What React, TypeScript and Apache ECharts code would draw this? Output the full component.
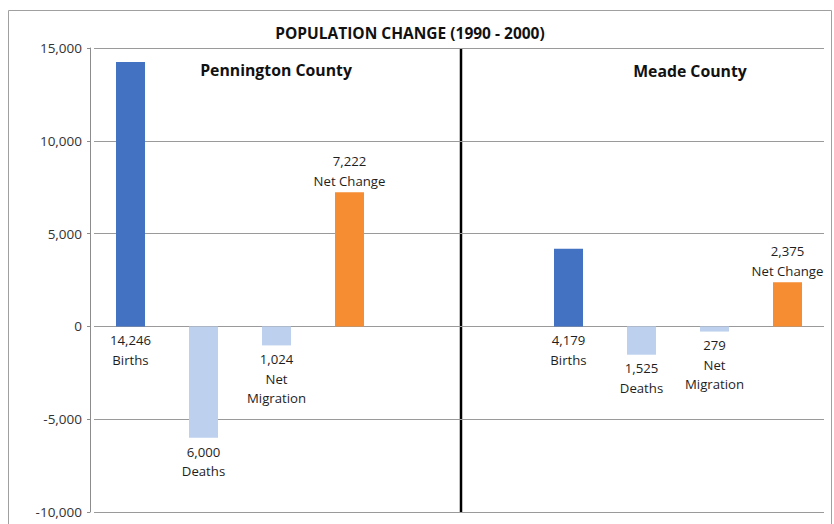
import React, { useEffect, useRef } from 'react';
import * as echarts from 'echarts';

const chartTitle = 'POPULATION CHANGE (1990 - 2000)';
const counties = ['Pennington County', 'Meade County'];
const components = ['Births', 'Deaths', 'Net Migration', 'Net Change'];
const componentLabels = ['Births', 'Deaths', 'Net\nMigration', 'Net Change'];
const penningtonValues = [14246, -6000, -1024, 7222];
const meadeValues = [4179, -1525, -279, 2375];
const componentColors = ['#4372c2', '#bdd0ee', '#bdd0ee', '#f68d33'];
const labelPositions = ['bottom', 'bottom', 'bottom', 'top'];
const yMin = -10000;
const yMax = 15000;
const yInterval = 5000;
const gapSlots = ['gap-1', 'gap-2'];

const FONT = "'Open Sans', 'Noto Sans', sans-serif";

export default function App() {
  const ref = useRef<HTMLDivElement>(null);

  useEffect(() => {
    if (!ref.current) return;
    const chart = echarts.init(ref.current, undefined, { renderer: 'svg' });

    const categories: string[] = [];
    const data: any[] = [];
    const pushCounty = (county: string, values: number[]) => {
      values.forEach((v, i) => {
        categories.push(county + '|' + components[i]);
        data.push({
          value: v,
          itemStyle: { color: componentColors[i] },
          label: {
            show: true,
            position: labelPositions[i],
            distance: labelPositions[i] === 'top' ? 2 : 4,
            formatter: () => Math.abs(v).toLocaleString('en-US') + '\n' + componentLabels[i],
          },
        });
      });
    };
    pushCounty(counties[0], penningtonValues);
    gapSlots.forEach((g) => {
      categories.push(g);
      data.push('-');
    });
    pushCounty(counties[1], meadeValues);

    const option: any = {
      animation: false,
      backgroundColor: '#ffffff',
      textStyle: { fontFamily: FONT },
      grid: { left: 94, right: 10, top: 48, bottom: 12, containLabel: false },
      xAxis: {
        type: 'category',
        data: categories,
        axisLine: { show: false },
        axisTick: { show: false },
        axisLabel: { show: false },
        splitLine: { show: false },
      },
      yAxis: {
        type: 'value',
        min: yMin,
        max: yMax,
        interval: yInterval,
        offset: 4,
        axisLine: { show: true, lineStyle: { color: '#8c8c8c', width: 1 } },
        axisTick: { show: true, length: 3, lineStyle: { color: '#8c8c8c' } },
        axisLabel: {
          color: '#333333',
          fontSize: 13.5,
          fontFamily: FONT,
          margin: 8,
          formatter: (v: number) => v.toLocaleString('en-US'),
        },
        splitLine: { show: true, lineStyle: { color: '#9a9a9a', width: 1 } },
      },
      series: [
        {
          type: 'bar',
          data,
          barWidth: 29,
          label: {
            color: '#1e1e1e',
            fontSize: 13.2,
            fontFamily: FONT,
            lineHeight: 19.5,
            align: 'center',
          },
        },
      ],
      graphic: [
        {
          type: 'rect',
          shape: { x: 8.5, y: 10.5, width: 823, height: 530 },
          style: { fill: 'none', stroke: '#a0a0a0', lineWidth: 1 },
          silent: true,
        },
        {
          type: 'text',
          x: 410,
          y: 33,
          style: {
            text: chartTitle,
            fontFamily: FONT,
            fontWeight: 'bold',
            fontSize: 15.5,
            fill: '#111111',
            align: 'center',
            verticalAlign: 'middle',
          },
        },
        {
          type: 'text',
          x: 276,
          y: 70,
          style: {
            text: counties[0],
            fontFamily: FONT,
            fontWeight: 'bold',
            fontSize: 15.8,
            fill: '#111111',
            align: 'center',
            verticalAlign: 'middle',
          },
        },
        {
          type: 'text',
          x: 690,
          y: 71,
          style: {
            text: counties[1],
            fontFamily: FONT,
            fontWeight: 'bold',
            fontSize: 15.8,
            fill: '#111111',
            align: 'center',
            verticalAlign: 'middle',
          },
        },
      ],
    };
    chart.setOption(option);

    const a = chart.convertToPixel({ xAxisIndex: 0 }, gapSlots[0]) as number;
    const b = chart.convertToPixel({ xAxisIndex: 0 }, gapSlots[1]) as number;
    const top = chart.convertToPixel({ yAxisIndex: 0 }, yMax) as number;
    const bottom = chart.convertToPixel({ yAxisIndex: 0 }, yMin) as number;
    const mid = (a + b) / 2 + 2;
    chart.setOption({
      graphic: [
        ...option.graphic,
        {
          type: 'line',
          shape: { x1: mid, y1: top, x2: mid, y2: bottom },
          style: { stroke: '#000000', lineWidth: 2.5 },
          silent: true,
        },
      ],
    });

    return () => chart.dispose();
  }, []);

  return (
    <div
      ref={ref}
      style={{ position: 'absolute', left: 0, top: 0, width: 834, height: 524 }}
    />
  );
}
